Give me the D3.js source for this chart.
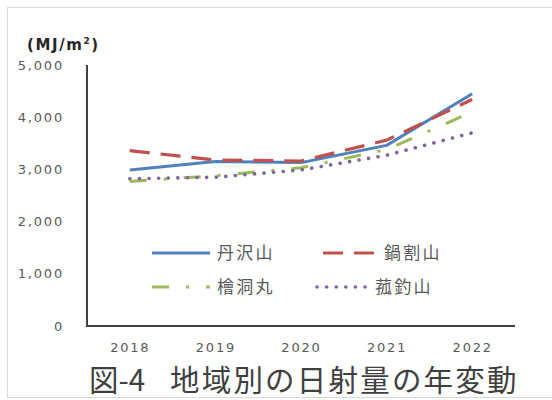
<!DOCTYPE html>
<html>
<head>
<meta charset="utf-8">
<script src="https://cdn.jsdelivr.net/npm/d3@7"></script>
<style>
  html, body { margin: 0; padding: 0; background: #fff; }
  svg { display: block; }
</style>
</head>
<body>
<svg id="chart" width="552" height="400"></svg>
<script>
// Annual solar radiation by area (MJ/m²)
const years = ["2018", "2019", "2020", "2021", "2022"];
const tanzawa  = [2990, 3150, 3130, 3460, 4450];   // 丹沢山
const nabewari = [3360, 3180, 3160, 3560, 4340];   // 鍋割山
const hinokiboramaru = [2770, 2880, 3030, 3380, 4100]; // 檜洞丸
const komotsurushi = [2820, 2850, 2990, 3270, 3700];   // 菰釣山
const yTicks = [0, 1000, 2000, 3000, 4000, 5000];
const seriesNames = ["丹沢山", "鍋割山", "檜洞丸", "菰釣山"];

const series = [
  { name: seriesNames[0], values: tanzawa,  color: "#4F81BD", dash: null,          cap: "butt",  width: 3 },
  { name: seriesNames[1], values: nabewari, color: "#C0504D", dash: "20,11",       cap: "butt",  width: 3.2 },
  { name: seriesNames[2], values: hinokiboramaru, color: "#9BBB59", dash: "17,17,3,17", cap: "butt", width: 3 },
  { name: seriesNames[3], values: komotsurushi, color: "#8064A2", dash: "0.1,9.5", cap: "round", width: 3.6 }
];

const svg = d3.select("#chart");
const fontNum = "'DejaVu Sans', sans-serif";
const fontJP = "'Noto Sans CJK JP', sans-serif";

// light frame around the chart area
svg.append("rect")
  .attr("x", 7.5).attr("y", 7.5)
  .attr("width", 548).attr("height", 390)
  .attr("fill", "none").attr("stroke", "#d9d9d9").attr("stroke-width", 1);

const plotLeft = 87, plotRight = 515, plotTop = 65, plotBottom = 326;

const x = d3.scalePoint().domain(years).range([plotLeft, plotRight]).padding(0.5);
const y = d3.scaleLinear().domain([0, 5000]).range([plotBottom, plotTop]);

// y axis labels
const yAxis = svg.append("g")
  .attr("transform", `translate(${plotLeft},0)`)
  .call(d3.axisLeft(y).tickValues(yTicks).tickSize(0).tickPadding(23)
        .tickFormat(d3.format(",")));
yAxis.select(".domain").remove();
yAxis.selectAll("text")
  .attr("fill", "#595959").attr("font-size", 13).attr("font-family", fontNum)
  .attr("letter-spacing", 1.8);

// x axis labels
const xAxis = svg.append("g")
  .attr("transform", `translate(0,${plotBottom})`)
  .call(d3.axisBottom(x).tickSize(0).tickPadding(17));
xAxis.select(".domain").remove();
xAxis.selectAll("text")
  .attr("fill", "#595959").attr("font-size", 13).attr("font-family", fontNum)
  .attr("letter-spacing", 1.8);

// axis lines
svg.append("path")
  .attr("d", `M${plotLeft},${plotTop}V${plotBottom}H${plotRight}`)
  .attr("fill", "none").attr("stroke", "#404040").attr("stroke-width", 2);

// unit label
const unit = svg.append("text")
  .attr("x", 27).attr("y", 50)
  .attr("font-family", fontNum).attr("font-weight", "bold")
  .attr("font-size", 15).attr("letter-spacing", 1.6).attr("fill", "#262626");
unit.append("tspan").text("(MJ/m");
unit.append("tspan").attr("font-size", 9).attr("dy", -6).text("2");
unit.append("tspan").attr("dy", 6).text(")");

// series lines
const line = d3.line()
  .x((d, i) => x(years[i]))
  .y(d => y(d));

svg.append("g").selectAll("path")
  .data(series)
  .join("path")
  .attr("d", s => line(s.values))
  .attr("fill", "none")
  .attr("stroke", s => s.color)
  .attr("stroke-width", s => s.width)
  .attr("stroke-dasharray", s => s.dash)
  .attr("stroke-linecap", s => s.cap)
  .attr("stroke-linejoin", "round");

// legend
const legendPos = [
  { lx: 152, ty: 253, tx: 217 },
  { lx: 323, ty: 253, tx: 384 },
  { lx: 152, ty: 287, tx: 217 },
  { lx: 317, ty: 287, tx: 375 }
];
const legend = svg.append("g");
series.forEach((s, i) => {
  const p = legendPos[i];
  const len = (i === 3) ? 53 : 58;
  legend.append("line")
    .attr("x1", p.lx).attr("x2", p.lx + len)
    .attr("y1", p.ty).attr("y2", p.ty)
    .attr("stroke", s.color).attr("stroke-width", s.width)
    .attr("stroke-dasharray", s.dash).attr("stroke-linecap", s.cap);
  legend.append("text")
    .attr("x", p.tx).attr("y", p.ty)
    .attr("dy", "0.36em")
    .attr("font-family", fontJP).attr("font-size", 17)
    .attr("letter-spacing", 2.3)
    .attr("fill", "#595959")
    .text(s.name);
});

// caption
const caption = svg.append("text")
  .attr("y", 391)
  .attr("font-family", fontJP).attr("font-size", 29.5)
  .attr("fill", "#404040");
caption.append("tspan").attr("x", 89).text("図-4");
caption.append("tspan").attr("x", 170).attr("letter-spacing", 2.2)
  .text("地域別の日射量の年変動");
</script>
</body>
</html>
